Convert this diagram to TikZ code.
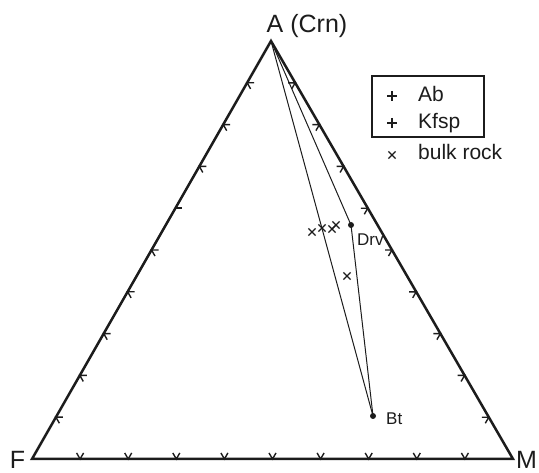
\documentclass[tikz,border=0pt]{standalone}
\usepackage{fontspec}
\setmainfont{Liberation Sans}
\usepackage{xcolor}
\definecolor{ink}{HTML}{1C1C1C}
\usetikzlibrary{calc}

\begin{document}
\begin{tikzpicture}[
        x=1pt, y=-1pt,
        edge/.style={draw=ink, line width=2.5pt, line join=miter},
        tie/.style={draw=ink, line width=1pt},
        tick/.style={draw=ink, line width=1.4pt},
        frame/.style={draw=ink, line width=1.3pt},
        bulk/.style={draw=ink, line width=1.4pt},
        corner/.style={font=\fontsize{25}{25}\selectfont, text=ink, anchor=base, inner sep=0pt},
        key/.style={font=\fontsize{21}{21}\selectfont, text=ink, anchor=base west, inner sep=0pt},
        phase/.style={font=\fontsize{17}{17}\selectfont, text=ink, anchor=base west, inner sep=0pt},
        dot/.style={fill=ink},
        cross/.pic={\draw[bulk] (-3.6,-3.6) -- (3.6,3.6) (-3.6,3.6) -- (3.6,-3.6);},
        plus/.pic={\draw[bulk] (-5,0) -- (5,0) (0,-5) -- (0,5);}
    ]
    \useasboundingbox (0,0) rectangle (539,473);

    % Corners
    \coordinate (A) at (271,41);
    \coordinate (F) at (32,459);
    \coordinate (M) at (513,459);
    \node[corner] (lblF) at (17.5,469) {F};
    \node[corner] (lblM) at (526.5,469) {M};
    \node[corner] (lblA) at (307,33) {A (Crn)};

    % Triangle
    \draw[edge] (A) -- (F) -- (M) -- cycle;

    % Ticks every 10 %
    \foreach \k in {1,...,9} {
        \ifnum\k=4
            \draw[tick] ($(A)!\k/10!(F)$) -- ++(0:7);
        \else
            \draw[tick] ($(A)!\k/10!(F)$) ++(0:7) -- ++(180:7) -- ++(60:7);
        \fi
        \draw[tick] ($(F)!\k/10!(M)$) ++(-60:7) -- ++(120:7) -- ++(-120:7);
        \draw[tick] ($(M)!\k/10!(A)$) ++(180:7) -- ++(0:7) -- ++(120:7);
    }

    % Tie lines
    \coordinate (Drv) at (351,225);
    \coordinate (Bt) at (373,416);
    \draw[tie] (A) -- (Bt);
    \draw[tie] (A) -- (Drv) -- (Bt);
    \fill[dot] (Drv) circle (3);
    \fill[dot] (Bt) circle (3);
    \node[phase] (lblDrv) at (357,246) {Drv};
    \node[phase] (lblBt) at (386,425) {Bt};

    % Bulk rock
    \foreach \x/\y in {312/232, 322/228, 332/229, 336/225, 347/276} {
        \pic at (\x,\y) {cross};
    }

    % Legend
    \draw[frame] (372,76) rectangle (484,137);
    \pic at (392,96) {plus};
    \pic at (392,123) {plus};
    \pic at (392,155) {cross};
    \node[key] (keyAb) at (418,102) {Ab};
    \node[key] (keyKfsp) at (418,129) {Kfsp};
    \node[key] (keyBulk) at (418,160) {bulk rock};

\end{tikzpicture}
\end{document}
